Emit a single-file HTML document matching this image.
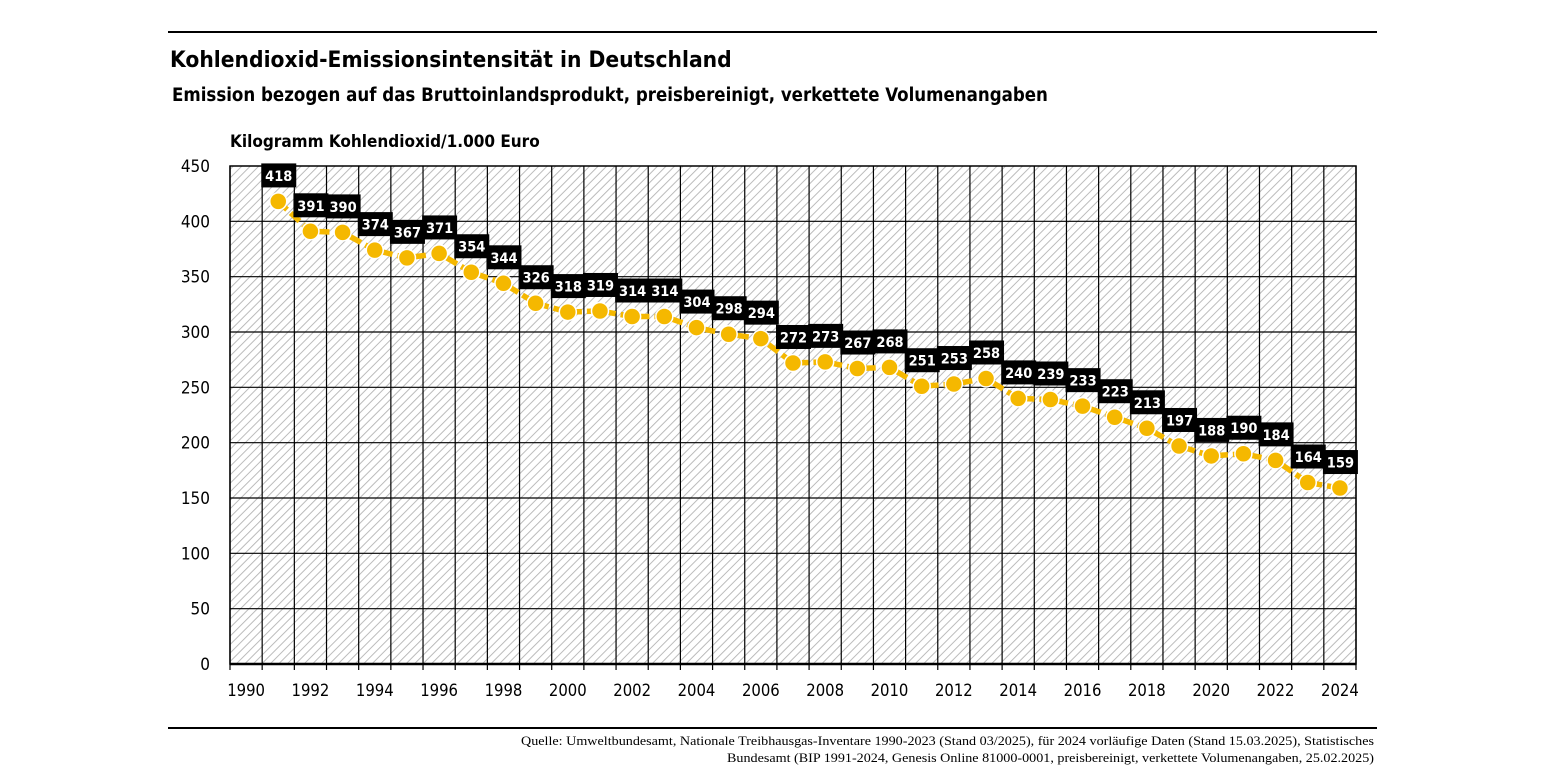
<!DOCTYPE html>
<html><head><meta charset="utf-8"><style>
body{margin:0;background:#fff;width:1545px;height:775px;overflow:hidden}
text{font-family:"DejaVu Sans Condensed","Liberation Sans",sans-serif}
</style></head><body>
<svg width="1545" height="775" xmlns="http://www.w3.org/2000/svg">
<defs>
<pattern id="h" width="6" height="6" patternUnits="userSpaceOnUse" patternTransform="rotate(45)">
<rect width="6" height="6" fill="#fff"/><line x1="0" y1="0" x2="0" y2="6" stroke="#b4b4b4" stroke-width="1.8"/>
</pattern>
</defs>
<line x1="168" y1="32" x2="1377" y2="32" stroke="#000" stroke-width="2"/>
<line x1="168" y1="728" x2="1377" y2="728" stroke="#000" stroke-width="2"/>
<text x="170" y="67" font-size="22.6" font-weight="bold">Kohlendioxid-Emissionsintensität in Deutschland</text>
<text x="172" y="101" font-size="18.5" font-weight="bold">Emission bezogen auf das Bruttoinlandsprodukt, preisbereinigt, verkettete Volumenangaben</text>
<text x="230" y="147" font-size="17" font-weight="bold">Kilogramm Kohlendioxid/1.000 Euro</text>
<rect x="230" y="166" width="1126" height="498" fill="url(#h)" stroke="#000" stroke-width="1.5"/>
<g id="grid" stroke="#000" stroke-width="1.2"></g>
<g id="yl" font-size="17" text-anchor="end"></g>
<g id="xl" font-size="16.5" text-anchor="middle"></g>
<g id="ser"></g>
<text x="521" y="745" font-size="13" textLength="853" lengthAdjust="spacingAndGlyphs" style="font-family:'Liberation Serif',serif">Quelle: Umweltbundesamt, Nationale Treibhausgas-Inventare 1990-2023 (Stand 03/2025), für 2024 vorläufige Daten (Stand 15.03.2025), Statistisches</text>
<text x="727" y="762" font-size="13" textLength="647" lengthAdjust="spacingAndGlyphs" style="font-family:'Liberation Serif',serif">Bundesamt (BIP 1991-2024, Genesis Online 81000-0001, preisbereinigt, verkettete Volumenangaben, 25.02.2025)</text>
</svg>
<script>
var NS="http://www.w3.org/2000/svg";
function el(p,t,a,txt){var e=document.createElementNS(NS,t);for(var k in a)e.setAttribute(k,a[k]);if(txt!=null)e.textContent=txt;document.getElementById(p).appendChild(e);return e;}
var x0=230,w=1126/35,y0=664,s=498/450;
for(var v=50;v<450;v+=50){var y=y0-v*s;el("grid","line",{x1:230,x2:1356,y1:y,y2:y});}
for(var v=0;v<=450;v+=50){el("yl","text",{x:210,y:y0-v*s+6},v);}
for(var i=1;i<35;i++){var x=x0+i*w;el("grid","line",{x1:x,x2:x,y1:166,y2:670});}
el("grid","line",{x1:230,x2:230,y1:166,y2:670});el("grid","line",{x1:1356,x2:1356,y1:166,y2:670});
el("grid","line",{x1:230,x2:1356,y1:664,y2:664,"stroke-width":2.5});
for(var i=0;i<35;i+=2){el("xl","text",{x:x0+(i+0.5)*w,y:696},1990+i);}
var d=[418,391,390,374,367,371,354,344,326,318,319,314,314,304,298,294,272,273,267,268,251,253,258,240,239,233,223,213,197,188,190,184,164,159];
var pts=d.map(function(v,i){return [x0+(i+1.5)*w,y0-v*s];});
el("ser","polyline",{points:pts.map(function(p){return p.join(",")}).join(" "),fill:"none",stroke:"#f5b800","stroke-width":5.5,"stroke-dasharray":"12,5"});
pts.forEach(function(p){el("ser","circle",{cx:p[0],cy:p[1],r:8.5,fill:"#f5b800",stroke:"#fff","stroke-width":1.5});});
pts.forEach(function(p,i){el("ser","rect",{x:p[0]-17,y:p[1]-38,width:35,height:24,fill:"#000"});
el("ser","text",{x:p[0]+0.5,y:p[1]-20.5,"font-size":14.5,"font-weight":"bold",fill:"#fff","text-anchor":"middle"},d[i]);});
</script>
</body></html>
